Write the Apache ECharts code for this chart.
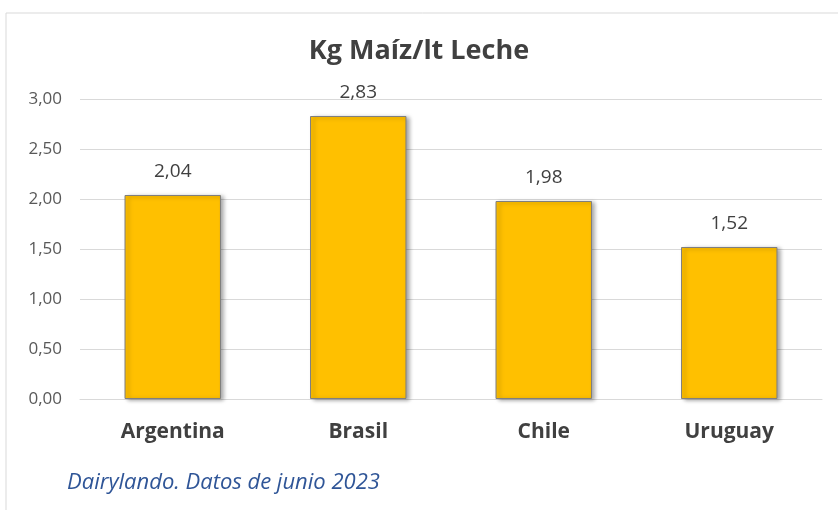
<!DOCTYPE html>
<html style="height: 100%">
<head>
    <meta charset="utf-8">
</head>
<body style="height: 100%; margin: 0; background: #fff">
<div id="container" style="width: 838px; height: 510px"></div>
<script type="text/javascript" src="https://cdn.jsdelivr.net/npm/echarts@6/dist/echarts.min.js"></script>
<script type="text/javascript">
    var paises = ['Argentina', 'Brasil', 'Chile', 'Uruguay'];
    var kgMaiz = [2.04, 2.83, 1.98, 1.52];
    var yTicks = [0, 0.5, 1, 1.5, 2, 2.5, 3];

    var fuente = '"Open Sans", "Liberation Sans", sans-serif';
    function coma(v) { return v.toFixed(2).replace('.', ','); }

    var myChart = echarts.init(document.getElementById('container'));
    var option = {
        animation: false,
        title: {
            text: 'Kg Maíz/lt Leche',
            left: 'center',
            top: 33,
            textStyle: { fontFamily: fuente, fontSize: 27, fontWeight: 'bold', color: '#404040' }
        },
        graphic: [
            {
                type: 'rect',
                shape: { x: 6, y: 13, width: 840, height: 510 },
                style: { fill: 'none', stroke: '#d9d9d9', lineWidth: 1 },
                silent: true
            },
            {
                type: 'text',
                left: 67,
                top: 472,
                style: {
                    text: 'Dairylando. Datos de junio 2023',
                    fontFamily: fuente, fontSize: 22, fontStyle: 'italic',
                    fill: '#2f5597'
                }
            }
        ],
        grid: { left: 80, right: 16, top: 99, bottom: 111 },
        xAxis: {
            type: 'category',
            data: paises,
            axisTick: { show: false },
            axisLine: { lineStyle: { color: '#d9d9d9' } },
            axisLabel: { margin: 23, fontFamily: fuente, fontSize: 21, fontWeight: 'bold', color: '#404040' }
        },
        yAxis: {
            type: 'value',
            min: yTicks[0],
            max: yTicks[yTicks.length - 1],
            interval: 0.5,
            axisLine: { show: false },
            axisTick: { show: false },
            splitLine: { lineStyle: { color: '#d9d9d9' } },
            axisLabel: {
                margin: 18, fontFamily: fuente, fontSize: 17, color: '#595959',
                formatter: function (v) { return coma(v); }
            }
        },
        series: [
            {
                type: 'bar',
                data: kgMaiz,
                barWidth: '52%',
                itemStyle: {
                    color: '#ffc000',
                    borderColor: '#7f7f7f',
                    borderWidth: 1,
                    shadowColor: 'rgba(0,0,0,0.35)',
                    shadowOffsetX: 3,
                    shadowOffsetY: 1,
                    shadowBlur: 4
                },
                label: {
                    show: true,
                    position: 'top',
                    distance: 14,
                    fontFamily: fuente, fontSize: 19, color: '#404040',
                    formatter: function (p) { return coma(p.value); }
                }
            }
        ]
    };
    myChart.setOption(option, true);
</script>
</body>
</html>
